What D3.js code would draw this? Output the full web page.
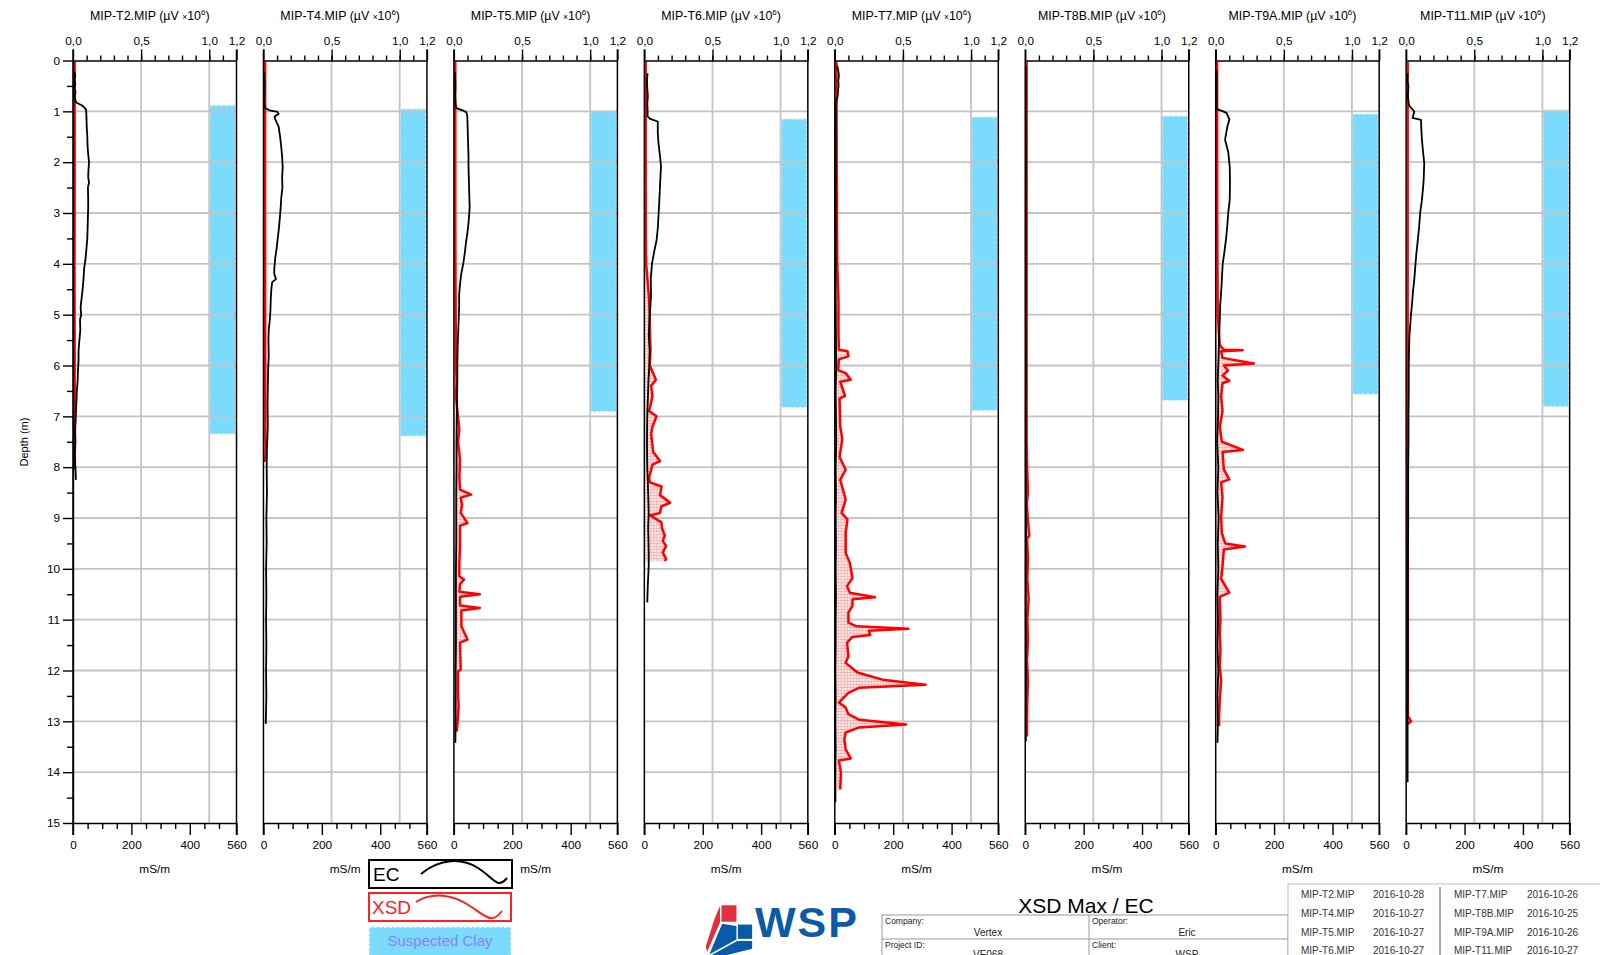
<html>
<head>
<meta charset="UTF-8">
<title>XSD Max / EC</title>
<script src="https://d3js.org/d3.v7.min.js"></script>
<style>
html,body{margin:0;padding:0;background:#fff;}
svg{display:block;font-family:"Liberation Sans",Arial,sans-serif;}
.axis path,.axis line{stroke:#000;stroke-width:1.4;}
.axis text{font-size:11.8px;fill:#000;}
.grid{stroke:#c4c4c4;stroke-width:1.8;}
.ec{fill:none;stroke:#000;stroke-width:1.8;stroke-linejoin:round;}
.xsd{fill:none;stroke:#ff0000;stroke-width:2.5;stroke-linejoin:round;}
</style>
</head>
<body>
<div id="container"></div>
<script>
// boreholes and log dates
const holes = ["MIP-T2.MIP","MIP-T4.MIP","MIP-T5.MIP","MIP-T6.MIP","MIP-T7.MIP","MIP-T8B.MIP","MIP-T9A.MIP","MIP-T11.MIP"];
const logDates = ["2016-10-28","2016-10-27","2016-10-27","2016-10-27","2016-10-26","2016-10-25","2016-10-26","2016-10-27"];

// suspected clay interval (m)
const clayTop = [0.88,0.95,0.99,1.15,1.11,1.09,1.05,0.97];
const clayBottom = [7.35,7.39,6.91,6.83,6.89,6.69,6.57,6.81];

// ticks
const depthTicks = [0,1,2,3,4,5,6,7,8,9,10,11,12,13,14,15];
const xsdTicks = [0,0.5,1.0,1.2];
const ecTicks = [0,200,400,560];

// EC  [depth m, mS/m]
const ecT2 = [[0.22,5],[0.3,8],[0.38,4],[0.45,8],[0.55,5],[0.62,9],[0.7,6],[0.78,8],[0.83,12],[0.88,30],[0.93,40],[0.98,45],[1.1,46],[1.3,47],[1.5,49],[1.7,50],[1.9,53],[2.0,55],[2.15,53],[2.3,52],[2.4,55],[2.5,51],[2.7,52],[2.9,52],[3.1,51],[3.3,50],[3.5,49],[3.7,46],[3.9,43],[4.1,38],[4.3,36],[4.5,33],[4.7,29],[4.85,26],[5.0,28],[5.1,24],[5.3,25],[5.5,22],[5.7,19],[5.9,19],[6.1,17],[6.3,16],[6.5,13],[6.7,12],[6.9,10],[7.1,9],[7.3,7],[7.5,8],[7.7,6],[7.9,7],[8.1,9],[8.25,10]];
const ecT4 = [[0.22,3],[0.5,4],[0.8,3],[0.93,5],[0.98,20],[1.01,48],[1.05,52],[1.1,38],[1.18,42],[1.3,52],[1.5,57],[1.7,61],[1.9,64],[2.1,66],[2.3,64],[2.5,65],[2.7,61],[2.9,59],[3.1,56],[3.3,53],[3.5,49],[3.7,45],[3.9,40],[4.1,37],[4.2,37],[4.3,43],[4.36,30],[4.5,27],[4.7,25],[4.9,24],[5.1,22],[5.3,18],[5.5,17],[5.8,18],[6.1,16],[6.4,15],[6.8,14],[7.2,15],[7.6,12],[8.0,11],[8.5,12],[9,10],[9.5,11],[10,9],[10.5,10],[11,9],[11.5,10],[12,9],[12.5,10],[13.05,8]];
const ecT5 = [[0.22,4],[0.5,5],[0.7,4],[0.88,6],[0.94,10],[0.98,30],[1.02,43],[1.1,46],[1.3,47],[1.5,48],[1.7,49],[1.9,50],[2.1,50],[2.3,51],[2.5,52],[2.7,53],[2.9,54],[3.05,52],[3.2,50],[3.4,46],[3.6,41],[3.8,37],[4.0,32],[4.2,25],[4.4,21],[4.6,18],[4.8,18],[5.0,17],[5.3,15],[5.6,13],[5.9,12],[6.2,12],[6.6,11],[7,10],[7.5,9],[8,9],[8.5,8],[9,8],[9.5,8],[10,7],[10.5,7],[11,7],[11.5,7],[12,6],[12.5,6],[13,6],[13.42,5]];
const ecT6 = [[0.25,11],[0.4,9],[0.55,10],[0.7,12],[0.85,10],[0.95,11],[1.1,11],[1.15,20],[1.2,46],[1.43,46],[1.6,48],[1.76,51],[1.9,54],[2.08,57],[2.3,55],[2.54,53],[2.8,51],[3.0,49],[3.3,46],[3.53,42],[3.75,34],[4.0,26],[4.3,22],[4.6,23],[4.8,21],[4.97,19],[5.2,17],[5.4,15],[5.7,18],[6.0,17],[6.3,14],[6.5,13],[6.8,11],[7.0,10],[7.5,9],[8.0,10],[8.5,13],[8.9,15],[9.2,13],[9.4,14],[9.7,15],[9.94,15],[10.3,12],[10.66,10]];
const ecT7 = [[0.1,8],[0.2,12],[0.3,14],[0.4,12],[0.5,13],[0.6,11],[0.7,10],[0.78,6],[0.85,4],[1.5,4],[2.5,3],[3.5,4],[4.5,3],[5.5,4],[6,5],[6.5,3],[7,4],[7.5,5],[8,3],[8.5,4],[9,3],[9.5,4],[10,3],[10.5,4],[11,3],[11.5,3],[12,2],[12.5,3],[13,2],[13.5,3],[14,2],[14.59,2]];
const ecT8B = [[0.1,2],[1,2],[2,3],[3,2],[4,2],[5,2],[6,3],[7,2],[8,2],[9,3],[10,2],[11,2],[12,3],[13,2],[13.39,2]];
const ecT9A = [[0.2,3],[0.5,3],[0.95,3],[1.0,25],[1.03,37],[1.16,47],[1.3,40],[1.56,32],[1.8,43],[2.09,48],[2.4,49],[2.74,48],[3.0,43],[3.3,39],[3.53,35],[3.8,29],[4.0,24],[4.2,22],[4.44,20],[4.84,15],[5.1,14],[5.37,12],[5.8,10],[6.3,7],[6.6,9],[7,8],[7.5,5],[8,9],[8.5,6],[9,10],[9.5,7],[10,9],[10.5,6],[11,8],[11.5,6],[12,9],[12.5,6],[13,8],[13.42,6]];
const ecT11 = [[0.25,5],[0.4,4],[0.5,8],[0.7,6],[0.85,9],[0.9,12],[1.0,28],[1.13,22],[1.17,51],[1.35,52],[1.56,54],[1.8,58],[2.02,62],[2.35,60],[2.5,58],[2.74,54],[3.0,48],[3.3,44],[3.53,40],[3.8,35],[4.0,32],[4.3,28],[4.57,23],[4.8,20],[4.97,17],[5.2,14],[5.42,11],[6,9],[6.5,9],[7,8],[7.5,8],[8,7],[9,7],[10,6],[11,6],[12,6],[13,5],[14.2,5]];

// XSD  [depth m, µV x10^6]
const xsdT2 = [[0.02,0.012],[2,0.012],[4,0.011],[6,0.012],[7.2,0.013],[7.5,0.015],[7.8,0.013],[8.05,0.014]];
const xsdT4 = [[0.02,0.012],[3,0.012],[6,0.013],[7.3,0.014],[7.6,0.015],[7.9,0.013]];
const xsdT5 = [[0.02,0.01],[3,0.01],[4.5,0.012],[6.0,0.015],[6.3,0.02],[6.6,0.015],[6.87,0.025],[7.26,0.04],[7.5,0.03],[7.85,0.045],[8.2,0.04],[8.44,0.045],[8.54,0.127],[8.6,0.05],[8.74,0.06],[8.9,0.05],[9.1,0.1],[9.15,0.045],[9.55,0.045],[9.88,0.04],[10.15,0.04],[10.21,0.075],[10.3,0.045],[10.45,0.04],[10.5,0.19],[10.55,0.045],[10.72,0.045],[10.77,0.19],[10.82,0.055],[11.13,0.055],[11.39,0.1],[11.45,0.045],[11.98,0.05],[12.02,0.03],[12.44,0.03],[12.7,0.035],[13.09,0.025],[13.2,0.02]];
const xsdT6 = [[0.02,0.01],[2,0.01],[3.5,0.011],[4.0,0.013],[4.7,0.035],[5.2,0.04],[5.7,0.045],[6.0,0.04],[6.28,0.085],[6.4,0.05],[6.6,0.06],[6.9,0.035],[7.0,0.09],[7.2,0.06],[7.35,0.05],[7.7,0.065],[7.88,0.115],[7.95,0.06],[8.2,0.035],[8.3,0.04],[8.38,0.127],[8.55,0.115],[8.7,0.19],[8.77,0.125],[8.9,0.115],[8.95,0.04],[9.08,0.125],[9.2,0.13],[9.35,0.15],[9.45,0.135],[9.55,0.16],[9.68,0.135],[9.8,0.16],[9.85,0.15]];
const xsdT7 = [[0.02,0.012],[2,0.014],[4,0.018],[4.71,0.027],[5.37,0.027],[5.69,0.03],[5.72,0.093],[5.82,0.1],[5.88,0.03],[6.09,0.025],[6.15,0.08],[6.28,0.117],[6.32,0.04],[6.6,0.075],[6.65,0.035],[7.2,0.04],[7.45,0.055],[7.8,0.035],[8.05,0.08],[8.25,0.04],[8.64,0.08],[8.9,0.05],[9.03,0.093],[9.29,0.08],[9.69,0.08],[9.88,0.11],[10.18,0.13],[10.34,0.09],[10.47,0.11],[10.56,0.295],[10.6,0.13],[10.73,0.13],[10.86,0.1],[11.06,0.1],[11.13,0.16],[11.18,0.54],[11.22,0.25],[11.3,0.26],[11.34,0.13],[11.45,0.09],[11.72,0.1],[11.85,0.08],[12.04,0.166],[12.18,0.35],[12.28,0.666],[12.34,0.178],[12.44,0.1],[12.63,0.03],[12.73,0.08],[12.86,0.1],[12.97,0.18],[13.06,0.524],[13.12,0.18],[13.22,0.08],[13.35,0.07],[13.55,0.08],[13.73,0.117],[13.77,0.03],[14.01,0.045],[14.34,0.04]];
const xsdT8B = [[0.02,0.01],[7.5,0.01],[8.0,0.014],[8.5,0.02],[8.7,0.012],[9.0,0.018],[9.35,0.03],[9.4,0.013],[9.8,0.02],[10.2,0.015],[10.6,0.025],[11,0.015],[11.4,0.02],[11.8,0.013],[12.2,0.02],[12.6,0.015],[13.0,0.013],[13.3,0.012]];
const xsdT9A = [[0.02,0.01],[3,0.011],[5,0.015],[5.6,0.03],[5.69,0.06],[5.7,0.198],[5.72,0.04],[5.85,0.05],[5.96,0.28],[6.0,0.06],[6.1,0.09],[6.2,0.05],[6.3,0.1],[6.35,0.05],[6.6,0.04],[6.9,0.05],[7.2,0.03],[7.5,0.045],[7.66,0.2],[7.7,0.05],[8.05,0.06],[8.24,0.1],[8.3,0.04],[8.6,0.05],[8.97,0.04],[9.3,0.045],[9.5,0.07],[9.56,0.214],[9.62,0.06],[9.95,0.05],[10.2,0.04],[10.47,0.1],[10.55,0.03],[11.0,0.035],[11.26,0.03],[11.6,0.035],[11.91,0.03],[12.2,0.04],[12.57,0.03],[12.9,0.025],[13.09,0.025]];
const xsdT11 = [[0.02,0.011],[6,0.011],[9,0.012],[12.9,0.013],[13.0,0.037],[13.05,0.012]];

const ecSeries = [ecT2,ecT4,ecT5,ecT6,ecT7,ecT8B,ecT9A,ecT11];
const xsdSeries = [xsdT2,xsdT4,xsdT5,xsdT6,xsdT7,xsdT8B,xsdT9A,xsdT11];

const W = 1600, H = 955;
const firstLeft = 73, panelStep = 190.45, panelW = 163.5;

const svg = d3.select("#container").append("svg").attr("width", W).attr("height", H);

const defs = svg.append("defs");
const pat = defs.append("pattern").attr("id","hatch").attr("width",3).attr("height",3).attr("patternUnits","userSpaceOnUse");
pat.append("rect").attr("width",3).attr("height",3).attr("fill","#fde6e6");
pat.append("path").attr("d","M0,0.5H3M0.5,0V3").attr("stroke","#f3a0a0").attr("stroke-width",0.7);

const y = d3.scaleLinear().domain([0,15]).range([60.5,823]);
const xTop = d3.scaleLinear().domain([0,1.2]).range([0,panelW]);
const xBot = d3.scaleLinear().domain([0,560]).range([0,panelW]);
const comma = d => d3.format(".1f")(d).replace(".", ",");

holes.forEach((name, i) => {
  const g = svg.append("g").attr("transform", `translate(${firstLeft + i*panelStep},0)`);

  // suspected clay
  g.append("rect")
    .attr("x", xTop(1.0) + 0.5).attr("width", xTop(1.19) - xTop(1.0))
    .attr("y", y(clayTop[i])).attr("height", y(clayBottom[i]) - y(clayTop[i]))
    .attr("fill", "#7bdbfc").attr("stroke", "#eefaff").attr("stroke-width", 1.3)
    .attr("stroke-dasharray", "3,2");

  // grid
  g.selectAll(".hg").data(depthTicks.slice(1, 15)).enter().append("line")
    .attr("class","grid").attr("x1",0).attr("x2",panelW)
    .attr("y1", d => y(d)).attr("y2", d => y(d));
  g.selectAll(".vg").data([0.5,1.0]).enter().append("line")
    .attr("class","grid").attr("y1",y(0)).attr("y2",y(15))
    .attr("x1", d => xTop(d)).attr("x2", d => xTop(d));

  // XSD fill + line
  const xsd = xsdSeries[i];
  g.append("path").datum(xsd)
    .attr("d", d3.area().y(d => y(d[0])).x0(xTop(0)).x1(d => xTop(d[1])))
    .attr("fill","url(#hatch)").attr("opacity",0.9);
  g.append("path").datum(xsd).attr("class","xsd")
    .attr("d", d3.line().y(d => y(d[0])).x(d => xTop(d[1])));

  // EC line
  g.append("path").datum(ecSeries[i]).attr("class","ec")
    .attr("d", d3.line().y(d => y(d[0])).x(d => xBot(d[1])));

  // top axis
  const top = g.append("g").attr("class","axis").attr("transform",`translate(0,${y(0)})`);
  top.call(d3.axisTop(xTop).tickValues(xsdTicks).tickSize(11).tickSizeOuter(0).tickFormat(comma));
  top.append("g").call(d3.axisTop(xTop).tickValues(d3.range(1,12).map(k => k/10)).tickSize(5).tickFormat(""))
    .select(".domain").remove();
  top.selectAll("text").attr("dy", "-0.1em");

  // bottom axis
  const bot = g.append("g").attr("class","axis").attr("transform",`translate(0,${y(15)})`);
  bot.call(d3.axisBottom(xBot).tickValues(ecTicks).tickSize(12).tickSizeOuter(0));
  bot.append("g").call(d3.axisBottom(xBot).tickValues([50,100,150,250,300,350,450,500]).tickSize(6).tickFormat(""))
    .select(".domain").remove();
  bot.selectAll("text").attr("dy","0.95em");

  // frame sides
  g.append("line").attr("x1",0).attr("x2",0).attr("y1",y(0)-11).attr("y2",y(15)+12)
    .attr("stroke","#000").attr("stroke-width",1.5);
  g.append("line").attr("x1",panelW).attr("x2",panelW).attr("y1",y(0)-11).attr("y2",y(15)+12)
    .attr("stroke","#000").attr("stroke-width",1.5);

  // labels
  const t = g.append("text").attr("x", panelW/2 - 5).attr("y", 20)
    .attr("text-anchor","middle").attr("font-size", 12.4);
  t.append("tspan").text(name + " (µV ");
  t.append("tspan").attr("font-size", 8.5).text("×");
  t.append("tspan").text("10");
  t.append("tspan").attr("font-size", 8).attr("dy", -5).text("6");
  t.append("tspan").attr("dy", 5).text(")");

  g.append("text").attr("x", panelW/2).attr("y", 873).attr("text-anchor","middle")
    .attr("font-size", 11.8).text("mS/m");

  if (i === 0) {
    const left = g.append("g").attr("class","axis");
    left.call(d3.axisLeft(y).tickValues(depthTicks).tickSize(10).tickSizeOuter(0).tickFormat(d3.format("d")));
    left.append("g").call(d3.axisLeft(y).tickValues(depthTicks.slice(0,15).map(d => d + 0.5)).tickSize(6).tickFormat(""))
      .select(".domain").remove();
    left.selectAll("text").attr("font-size", 12);
  }
});

svg.append("text").attr("transform","translate(28,442) rotate(-90)")
  .attr("text-anchor","middle").attr("font-size",11).text("Depth (m)");

// legend
const leg = svg.append("g");
leg.append("rect").attr("x",369).attr("y",860).attr("width",143).attr("height",28)
  .attr("fill","#fff").attr("stroke","#000").attr("stroke-width",2);
leg.append("text").attr("x",373).attr("y",881).attr("font-size",19).text("EC");
leg.append("path").attr("d","M421,874 C440,858 462,858 478,868 S497,890 507,878")
  .attr("fill","none").attr("stroke","#000").attr("stroke-width",2);
leg.append("rect").attr("x",369).attr("y",893).attr("width",142).attr("height",28)
  .attr("fill","#fff").attr("stroke","#ff2020").attr("stroke-width",2);
leg.append("text").attr("x",372).attr("y",914).attr("font-size",19).attr("fill","#ff2020").text("XSD");
leg.append("path").attr("d","M416,902 C432,892 452,894 470,906 S492,924 502,911")
  .attr("fill","none").attr("stroke","#ff2020").attr("stroke-width",2);
leg.append("rect").attr("x",369).attr("y",927).attr("width",142).attr("height",34)
  .attr("fill","#7bdbfc").attr("stroke","#eefaff").attr("stroke-width",1.5).attr("stroke-dasharray","3,2");
leg.append("text").attr("x",440).attr("y",946).attr("text-anchor","middle")
  .attr("font-size",15).attr("fill","#8a80ff").text("Suspected Clay");

// logo
const lp = (x3, y3) => [350 + x3/2.8, 826 + y3/2.8];
const logo = svg.append("g");
const poly = (pts, fill) => logo.append("polygon").attr("points", pts.map(p => lp(p[0],p[1]).join(",")).join(" ")).attr("fill", fill);
poly([[1040,222],[1082,222],[1082,268],[1040,268]], "#e52e3a");
poly([[1036,224],[1036,270],[1000,352],[996,338],[1020,262]], "#e52e3a");
poly([[1086,276],[1126,276],[1126,316],[1086,316]], "#0a5aa8");
poly([[1042,274],[1082,280],[1082,318],[1006,360]], "#0a5aa8");
poly([[1004,366],[1084,322],[1126,322],[1126,344],[1012,372]], "#0a5aa8");
logo.append("text").attr("x",755).attr("y",937).attr("font-size",43).attr("font-weight","bold")
  .attr("fill","#0a5aa8").attr("textLength",102).text("WSP");

// title block
svg.append("text").attr("x",1086).attr("y",913).attr("text-anchor","middle").attr("font-size",21).text("XSD Max / EC");
const tb = svg.append("g").attr("font-size",9.5).attr("fill","#222");
tb.append("rect").attr("x",882).attr("y",915).attr("width",406).attr("height",50)
  .attr("fill","none").attr("stroke","#999").attr("stroke-width",1);
tb.append("line").attr("x1",882).attr("x2",1288).attr("y1",939).attr("y2",939).attr("stroke","#999");
tb.append("line").attr("x1",1089).attr("x2",1089).attr("y1",915).attr("y2",965).attr("stroke","#999");
const cells = [["Company:",885,924],["Operator:",1092,924],["Project ID:",885,948],["Client:",1092,948]];
cells.forEach(c => tb.append("text").attr("x",c[1]).attr("y",c[2]).attr("font-size",8.5).text(c[0]));
const vals = [["Vertex",988,936],["Eric",1187,936],["VE068",988,958],["WSP",1187,958]];
vals.forEach(c => tb.append("text").attr("x",c[1]).attr("y",c[2]).attr("text-anchor","middle").attr("font-size",10).text(c[0]));

const dt = svg.append("g").attr("font-size",10).attr("fill","#333");
dt.append("rect").attr("x",1288).attr("y",884).attr("width",330).attr("height",90)
  .attr("fill","#fff").attr("stroke","#bbb");
dt.append("line").attr("x1",1440).attr("x2",1440).attr("y1",887).attr("y2",962).attr("stroke","#555");
holes.forEach((h, i) => {
  const col = Math.floor(i/4), row = i % 4;
  const yy = 898 + row*18.8;
  dt.append("text").attr("x", col ? 1454 : 1301).attr("y", yy).text(h);
  dt.append("text").attr("x", col ? 1527 : 1373).attr("y", yy).text(logDates[i]);
});
</script>
</body>
</html>
